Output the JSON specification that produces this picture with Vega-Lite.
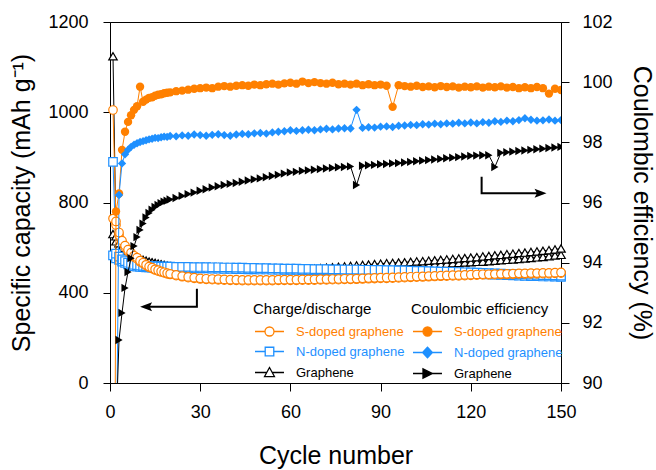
{
  "$schema": "https://vega.github.io/schema/vega-lite/v6.json",
  "width": 451,
  "height": 361,
  "autosize": "none",
  "padding": {"left": 110, "top": 22, "right": 95, "bottom": 87},
  "background": "white",
  "config": {
    "font": "Liberation Sans",
    "view": {"stroke": "black", "strokeWidth": 1},
    "axis": {"grid": false, "domainColor": "black", "tickColor": "black", "labelColor": "black", "titleColor": "black", "labelFontSize": 18, "titleFontSize": 25, "titleFontWeight": "normal", "labelFont": "Liberation Sans", "titleFont": "Liberation Sans", "tickSize": 8, "domainWidth": 1, "tickWidth": 1},
    "legend": {"titleFont": "Liberation Sans", "labelFont": "Liberation Sans", "titleFontSize": 15, "titleFontWeight": "normal", "titleColor": "black", "labelFontSize": 13, "padding": 0, "symbolSize": 81, "symbolStrokeWidth": 1.3, "labelOffset": 30, "rowPadding": 5, "titlePadding": 8, "direction": "vertical"}
  },
  "datasets": {
    "d": [
      {"c":1,"Sd":1005,"Sc":729,"Nd":890,"Nc":566,"Gd":1124,"Gc":660,"Se":72.5,"Ne":64.4,"Ge":58.7},
      {"c":2,"Sd":716,"Sc":700,"Nd":573,"Nc":552,"Gd":650,"Gc":628,"Se":95.7,"Ne":86,"Ge":88.5},
      {"c":3,"Sd":667,"Sc":655,"Nd":560,"Nc":546,"Gd":620,"Gc":605,"Se":96.3,"Ne":96.25,"Ge":91.43},
      {"c":4,"Sd":631,"Sc":622,"Nd":548,"Nc":538,"Gd":600,"Gc":590,"Se":97.75,"Ne":97.3,"Ge":92.33},
      {"c":5,"Sd":609,"Sc":601,"Nd":540,"Nc":532,"Gd":588,"Gc":580,"Se":98.35,"Ne":97.6,"Ge":93.16},
      {"c":6,"Sd":591,"Sc":584,"Nd":533,"Nc":526,"Gd":578,"Gc":571,"Se":98.68,"Ne":97.75,"Ge":93.69},
      {"c":7,"Sd":578,"Sc":571,"Nd":528,"Nc":522,"Gd":570,"Gc":564,"Se":98.9,"Ne":97.85,"Ge":94.15},
      {"c":8,"Sd":564,"Sc":558,"Nd":524,"Nc":518,"Gd":562,"Gc":557,"Se":99.08,"Ne":97.92,"Ge":94.55},
      {"c":9,"Sd":556,"Sc":550,"Nd":522,"Nc":516,"Gd":556,"Gc":551,"Se":99.2,"Ne":97.97,"Ge":94.85},
      {"c":10,"Sd":542,"Sc":537,"Nd":520,"Nc":514,"Gd":551,"Gc":547,"Se":99.85,"Ne":98.01,"Ge":95.09},
      {"c":11,"Sd":533,"Sc":529,"Nd":519,"Nc":513,"Gd":546,"Gc":542,"Se":99.35,"Ne":98.04,"Ge":95.3},
      {"c":12,"Sd":524,"Sc":520,"Nd":518,"Nc":512,"Gd":542,"Gc":538,"Se":99.42,"Ne":98.07,"Ge":95.5},
      {"c":13,"Sd":516,"Sc":513,"Nd":518,"Nc":512,"Gd":538,"Gc":535,"Se":99.48,"Ne":98.1,"Ge":95.65},
      {"c":14,"Sd":511,"Sc":507,"Nd":517,"Nc":511,"Gd":535,"Gc":532,"Se":99.5,"Ne":98.12,"Ge":95.76},
      {"c":15,"Sd":504,"Sc":501,"Nd":517,"Nc":511,"Gd":532,"Gc":529,"Se":99.55,"Ne":98.15,"Ge":95.85},
      {"c":16,"Sd":500,"Sc":496,"Nd":517,"Nc":511,"Gd":529,"Gc":526,"Se":99.58,"Ne":98.14,"Ge":95.92},
      {"c":17,"Sd":495,"Sc":492,"Nd":516,"Nc":510,"Gd":526,"Gc":523,"Se":99.6,"Ne":98.17,"Ge":95.98},
      {"c":18,"Sd":491,"Sc":488,"Nd":516,"Nc":510,"Gd":523,"Gc":520,"Se":99.63,"Ne":98.19,"Ge":96.03},
      {"c":19,"Sd":487,"Sc":484,"Nd":516,"Nc":510,"Gd":520,"Gc":517,"Se":99.65,"Ne":98.18,"Ge":96.06},
      {"c":20,"Sd":484,"Sc":481,"Nd":516,"Nc":510,"Gd":518,"Gc":515,"Se":99.66,"Ne":98.21,"Ge":96.1},
      {"c":22,"Sd":479,"Sc":476,"Nd":515,"Nc":509,"Gd":515,"Gc":512,"Se":99.7,"Ne":98.2,"Ge":96.15},
      {"c":24,"Sd":474,"Sc":471,"Nd":515,"Nc":509,"Gd":514,"Gc":512,"Se":99.72,"Ne":98.23,"Ge":96.22},
      {"c":26,"Sd":470,"Sc":467,"Nd":515,"Nc":509,"Gd":514,"Gc":512,"Se":99.75,"Ne":98.22,"Ge":96.28},
      {"c":28,"Sd":467,"Sc":464,"Nd":514,"Nc":508,"Gd":513,"Gc":511,"Se":99.78,"Ne":98.26,"Ge":96.33},
      {"c":30,"Sd":464,"Sc":461,"Nd":514,"Nc":508,"Gd":513,"Gc":511,"Se":99.8,"Ne":98.24,"Ge":96.39},
      {"c":32,"Sd":462,"Sc":459,"Nd":514,"Nc":508,"Gd":513,"Gc":511,"Se":99.82,"Ne":98.22,"Ge":96.44},
      {"c":34,"Sd":461,"Sc":458,"Nd":513,"Nc":507,"Gd":512,"Gc":510,"Se":99.8,"Ne":98.25,"Ge":96.5},
      {"c":36,"Sd":460,"Sc":457,"Nd":513,"Nc":507,"Gd":512,"Gc":510,"Se":99.85,"Ne":98.27,"Ge":96.54},
      {"c":38,"Sd":459,"Sc":456,"Nd":512,"Nc":506,"Gd":511,"Gc":509,"Se":99.87,"Ne":98.24,"Ge":96.58},
      {"c":40,"Sd":458,"Sc":455,"Nd":512,"Nc":506,"Gd":511,"Gc":509,"Se":99.85,"Ne":98.22,"Ge":96.62},
      {"c":42,"Sd":458,"Sc":455,"Nd":511,"Nc":505,"Gd":510,"Gc":508,"Se":99.88,"Ne":98.26,"Ge":96.65},
      {"c":44,"Sd":457,"Sc":454,"Nd":511,"Nc":505,"Gd":510,"Gc":508,"Se":99.9,"Ne":98.28,"Ge":96.69},
      {"c":46,"Sd":457,"Sc":454,"Nd":510,"Nc":504,"Gd":509,"Gc":507,"Se":99.88,"Ne":98.27,"Ge":96.73},
      {"c":48,"Sd":457,"Sc":454,"Nd":510,"Nc":504,"Gd":509,"Gc":507,"Se":99.92,"Ne":98.3,"Ge":96.77},
      {"c":50,"Sd":457,"Sc":454,"Nd":509,"Nc":503,"Gd":508,"Gc":506,"Se":99.9,"Ne":98.31,"Ge":96.8},
      {"c":52,"Sd":457,"Sc":454,"Nd":509,"Nc":503,"Gd":508,"Gc":506,"Se":99.93,"Ne":98.29,"Ge":96.84},
      {"c":54,"Sd":457,"Sc":454,"Nd":508,"Nc":502,"Gd":507,"Gc":505,"Se":99.95,"Ne":98.33,"Ge":96.88},
      {"c":56,"Sd":458,"Sc":455,"Nd":508,"Nc":502,"Gd":507,"Gc":505,"Se":99.92,"Ne":98.35,"Ge":96.92},
      {"c":58,"Sd":458,"Sc":455,"Nd":507,"Nc":501,"Gd":506,"Gc":504,"Se":99.96,"Ne":98.37,"Ge":96.96},
      {"c":60,"Sd":458,"Sc":455,"Nd":507,"Nc":501,"Gd":506,"Gc":504,"Se":99.98,"Ne":98.4,"Ge":97.0},
      {"c":62,"Sd":458,"Sc":455,"Nd":507,"Nc":501,"Gd":506,"Gc":504,"Se":99.95,"Ne":98.38,"Ge":97.02},
      {"c":64,"Sd":459,"Sc":456,"Nd":506,"Nc":500,"Gd":505,"Gc":503,"Se":100.02,"Ne":98.4,"Ge":97.05},
      {"c":66,"Sd":459,"Sc":456,"Nd":506,"Nc":500,"Gd":506,"Gc":503,"Se":99.97,"Ne":98.42,"Ge":97.07},
      {"c":68,"Sd":459,"Sc":456,"Nd":505,"Nc":499,"Gd":507,"Gc":504,"Se":100.0,"Ne":98.4,"Ge":97.09},
      {"c":70,"Sd":460,"Sc":457,"Nd":505,"Nc":499,"Gd":509,"Gc":505,"Se":99.97,"Ne":98.43,"Ge":97.11},
      {"c":72,"Sd":460,"Sc":457,"Nd":505,"Nc":499,"Gd":511,"Gc":506,"Se":99.95,"Ne":98.45,"Ge":97.13},
      {"c":74,"Sd":461,"Sc":458,"Nd":504,"Nc":498,"Gd":513,"Gc":507,"Se":99.98,"Ne":98.43,"Ge":97.15},
      {"c":76,"Sd":461,"Sc":458,"Nd":504,"Nc":498,"Gd":515,"Gc":508,"Se":99.93,"Ne":98.46,"Ge":97.17},
      {"c":78,"Sd":462,"Sc":459,"Nd":503,"Nc":497,"Gd":517,"Gc":509,"Se":99.95,"Ne":98.47,"Ge":97.18},
      {"c":80,"Sd":462,"Sc":459,"Nd":503,"Nc":497,"Gd":519,"Gc":510,"Se":99.92,"Ne":98.46,"Ge":97.2},
      {"c":82,"Sd":463,"Sc":460,"Nd":503,"Nc":497,"Gd":521,"Gc":511,"Se":99.95,"Ne":99.08,"Ge":96.58},
      {"c":84,"Sd":464,"Sc":461,"Nd":502,"Nc":496,"Gd":523,"Gc":512,"Se":99.9,"Ne":98.48,"Ge":97.22},
      {"c":86,"Sd":465,"Sc":462,"Nd":502,"Nc":496,"Gd":525,"Gc":514,"Se":99.93,"Ne":98.5,"Ge":97.24},
      {"c":88,"Sd":466,"Sc":463,"Nd":501,"Nc":495,"Gd":527,"Gc":515,"Se":99.9,"Ne":98.49,"Ge":97.25},
      {"c":90,"Sd":467,"Sc":464,"Nd":501,"Nc":495,"Gd":529,"Gc":516,"Se":99.92,"Ne":98.52,"Ge":97.27},
      {"c":92,"Sd":467,"Sc":464,"Nd":500,"Nc":494,"Gd":531,"Gc":517,"Se":99.88,"Ne":98.53,"Ge":97.28},
      {"c":94,"Sd":468,"Sc":465,"Nd":500,"Nc":494,"Gd":532,"Gc":518,"Se":99.18,"Ne":98.51,"Ge":97.3},
      {"c":96,"Sd":469,"Sc":466,"Nd":499,"Nc":493,"Gd":534,"Gc":519,"Se":99.9,"Ne":98.55,"Ge":97.31},
      {"c":98,"Sd":470,"Sc":467,"Nd":499,"Nc":493,"Gd":535,"Gc":521,"Se":99.87,"Ne":98.56,"Ge":97.33},
      {"c":100,"Sd":471,"Sc":468,"Nd":498,"Nc":492,"Gd":537,"Gc":523,"Se":99.85,"Ne":98.58,"Ge":97.35},
      {"c":102,"Sd":472,"Sc":469,"Nd":497,"Nc":491,"Gd":539,"Gc":524,"Se":99.88,"Ne":98.57,"Ge":97.37},
      {"c":104,"Sd":473,"Sc":470,"Nd":497,"Nc":491,"Gd":540,"Gc":525,"Se":99.84,"Ne":98.6,"Ge":97.39},
      {"c":106,"Sd":474,"Sc":471,"Nd":496,"Nc":490,"Gd":542,"Gc":526,"Se":99.86,"Ne":98.59,"Ge":97.41},
      {"c":108,"Sd":475,"Sc":472,"Nd":495,"Nc":489,"Gd":544,"Gc":527,"Se":99.83,"Ne":98.62,"Ge":97.43},
      {"c":110,"Sd":476,"Sc":473,"Nd":494,"Nc":488,"Gd":546,"Gc":528,"Se":99.87,"Ne":98.6,"Ge":97.45},
      {"c":112,"Sd":477,"Sc":474,"Nd":493,"Nc":487,"Gd":548,"Gc":529,"Se":99.84,"Ne":98.63,"Ge":97.47},
      {"c":114,"Sd":478,"Sc":475,"Nd":493,"Nc":487,"Gd":550,"Gc":531,"Se":99.86,"Ne":98.62,"Ge":97.49},
      {"c":116,"Sd":478,"Sc":475,"Nd":492,"Nc":486,"Gd":552,"Gc":532,"Se":99.82,"Ne":98.65,"Ge":97.51},
      {"c":118,"Sd":479,"Sc":476,"Nd":491,"Nc":485,"Gd":554,"Gc":534,"Se":99.85,"Ne":98.63,"Ge":97.53},
      {"c":120,"Sd":480,"Sc":477,"Nd":490,"Nc":484,"Gd":556,"Gc":535,"Se":99.83,"Ne":98.66,"Ge":97.55},
      {"c":122,"Sd":481,"Sc":478,"Nd":489,"Nc":483,"Gd":558,"Gc":537,"Se":99.86,"Ne":98.63,"Ge":97.56},
      {"c":124,"Sd":482,"Sc":479,"Nd":488,"Nc":482,"Gd":561,"Gc":538,"Se":99.82,"Ne":98.67,"Ge":97.57},
      {"c":126,"Sd":482,"Sc":479,"Nd":487,"Nc":481,"Gd":563,"Gc":540,"Se":99.85,"Ne":98.65,"Ge":97.57},
      {"c":128,"Sd":483,"Sc":480,"Nd":486,"Nc":480,"Gd":566,"Gc":542,"Se":99.83,"Ne":98.7,"Ge":97.18},
      {"c":130,"Sd":484,"Sc":481,"Nd":485,"Nc":479,"Gd":568,"Gc":544,"Se":99.86,"Ne":98.68,"Ge":97.65},
      {"c":132,"Sd":484,"Sc":481,"Nd":484,"Nc":478,"Gd":571,"Gc":546,"Se":99.82,"Ne":98.72,"Ge":97.67},
      {"c":134,"Sd":485,"Sc":482,"Nd":483,"Nc":477,"Gd":573,"Gc":548,"Se":99.84,"Ne":98.7,"Ge":97.69},
      {"c":136,"Sd":486,"Sc":483,"Nd":482,"Nc":476,"Gd":576,"Gc":550,"Se":99.8,"Ne":98.74,"Ge":97.71},
      {"c":138,"Sd":486,"Sc":483,"Nd":481,"Nc":475,"Gd":578,"Gc":552,"Se":99.83,"Ne":98.8,"Ge":97.73},
      {"c":140,"Sd":487,"Sc":484,"Nd":480,"Nc":474,"Gd":581,"Gc":554,"Se":99.8,"Ne":98.75,"Ge":97.75},
      {"c":142,"Sd":487,"Sc":484,"Nd":479,"Nc":473,"Gd":583,"Gc":557,"Se":99.84,"Ne":98.72,"Ge":97.77},
      {"c":144,"Sd":488,"Sc":485,"Nd":478,"Nc":472,"Gd":586,"Gc":559,"Se":99.8,"Ne":98.73,"Ge":97.79},
      {"c":146,"Sd":488,"Sc":485,"Nd":478,"Nc":472,"Gd":589,"Gc":562,"Se":99.62,"Ne":98.76,"Ge":97.81},
      {"c":148,"Sd":489,"Sc":486,"Nd":477,"Nc":471,"Gd":592,"Gc":565,"Se":99.78,"Ne":98.72,"Ge":97.83},
      {"c":150,"Sd":490,"Sc":487,"Nd":476,"Nc":470,"Gd":596,"Gc":568,"Se":99.74,"Ne":98.74,"Ge":97.85}
    ],
    "arrL": [
      {"c": 28.9, "cap": 418, "o": 1},
      {"c": 28.9, "cap": 338, "o": 2},
      {"c": 12, "cap": 338, "o": 3}
    ],
    "arrR": [
      {"c": 123.6, "ce": 96.86, "o": 1},
      {"c": 123.6, "ce": 96.31, "o": 2},
      {"c": 143.2, "ce": 96.31, "o": 3}
    ]
  },
  "encoding": {
    "x": {"field": "c", "type": "quantitative", "scale": {"domain": [0, 150], "nice": false, "zero": false}, "axis": {"values": [0, 30, 60, 90, 120, 150], "title": "Cycle number", "labelPadding": 12, "titlePadding": 22, "labelFlush": false}}
  },
  "layer": [
    {
      "encoding": {
        "y": {"field": "cap", "type": "quantitative", "scale": {"domain": [0, 400, 800, 1000, 1200], "range": [361, 270.75, 180.5, 90.25, 0], "nice": false, "zero": false}, "axis": {"orient": "left", "values": [0, 400, 800, 1000, 1200], "format": "d", "title": "Specific capacity (mAh g⁻¹)", "tickSize": 7, "labelPadding": 15, "titlePadding": 13}}
      },
      "layer": [
        {
          "data": {"name": "d"},
          "transform": [{"fold": ["Gd", "Gc", "Nd", "Nc", "Sd", "Sc"], "as": ["k", "cap"]}],
          "mark": {"type": "line", "strokeWidth": 1},
          "encoding": {
            "color": {"field": "k", "type": "nominal", "scale": {"domain": ["Gc", "Gd", "Nc", "Nd", "Sc", "Sd"], "range": ["#000000", "#000000", "#1e90ff", "#1e90ff", "#ff8000", "#ff8000"]}, "legend": null}
          }
        },
        {
          "data": {"name": "d"},
          "transform": [{"fold": ["Gd", "Gc", "Nd", "Nc", "Sd", "Sc"], "as": ["k", "cap"]}],
          "mark": {"type": "point", "filled": true, "fill": "white", "size": 72, "strokeWidth": 1.2, "opacity": 1},
          "encoding": {
            "order": {"field": "k", "type": "nominal"},
            "stroke": {"field": "k", "type": "nominal", "scale": {"domain": ["Sd", "Sc", "Nd", "Nc", "Gd", "Gc"], "range": ["#ff8000", "#ff8000", "#1e90ff", "#1e90ff", "#000000", "#000000"]},
              "legend": {
                "title": "Charge/discharge",
                "values": ["Sd", "Nd", "Gd"],
                "labelExpr": "datum.value == 'Sd' ? 'S-doped graphene' : datum.value == 'Nd' ? 'N-doped graphene' : 'Graphene'",
                "orient": "none", "legendX": 143, "legendY": 280,
                "encoding": {
                  "symbols": {
                    "shape": {"condition": [{"test": "datum.value == 'Sd'", "value": "M-1,0H1.22M3.22,0H5.44M1.22,0A1,1,0,1,1,3.22,0A1,1,0,1,1,1.22,0Z"}, {"test": "datum.value == 'Nd'", "value": "M-1,0H1.27M3.17,0H5.44M1.27,-0.95H3.17V0.95H1.27Z"}], "value": "M-1,0H1.62M2.82,0H5.44M2.22,-1.1L3.32,0.9L1.12,0.9Z"},
                    "stroke": {"condition": [{"test": "datum.value == 'Sd'", "value": "#ff8000"}, {"test": "datum.value == 'Nd'", "value": "#1e90ff"}], "value": "black"},
                    "fill": {"value": "white"},
                    "strokeWidth": {"value": 1.3},
                    "opacity": {"value": 1}
                  },
                  "labels": {
                    "fill": {"condition": [{"test": "datum.value == 'Sd'", "value": "#ff8000"}, {"test": "datum.value == 'Nd'", "value": "#1e90ff"}], "value": "black"}
                  }
                }
              }
            },
            "shape": {"field": "k", "type": "nominal", "scale": {"domain": ["Sc", "Sd", "Nc", "Nd", "Gc", "Gd"], "range": ["circle", "circle", "square", "square", "triangle-up", "triangle-up"]}, "legend": null}
          }
        },
        {
          "data": {"name": "arrL"},
          "mark": {"type": "line", "color": "black", "strokeWidth": 2},
          "encoding": {"order": {"field": "o", "type": "quantitative"}}
        },
        {
          "data": {"name": "arrL"},
          "transform": [{"filter": "datum.o == 3"}],
          "mark": {"type": "point", "filled": true, "color": "black", "opacity": 1, "size": 144, "shape": "M-1,0L1,-0.75L0.6,0L1,0.75Z"},
          "encoding": {}
        }
      ]
    },
    {
      "encoding": {
        "y": {"field": "ce", "type": "quantitative", "scale": {"domain": [90, 102], "nice": false, "zero": false}, "axis": {"orient": "right", "values": [90, 92, 94, 96, 98, 100, 102], "title": "Coulombic efficiency (%)", "labelPadding": 13, "titlePadding": 16}}
      },
      "layer": [
        {
          "data": {"name": "d"},
          "transform": [{"fold": ["Se", "Ne", "Ge"], "as": ["k", "ce"]}],
          "mark": {"type": "line", "strokeWidth": 1, "clip": true},
          "encoding": {
            "stroke": {"field": "k", "type": "nominal", "scale": {"domain": ["Ne", "Se", "Ge"], "range": ["#1e90ff", "#ff8000", "#000000"]}, "legend": null}
          }
        },
        {
          "data": {"name": "d"},
          "transform": [{"fold": ["Se", "Ne", "Ge"], "as": ["k", "ce"]}],
          "mark": {"type": "point", "filled": true, "size": 70, "opacity": 1, "clip": true},
          "encoding": {
            "color": {"field": "k", "type": "nominal", "scale": {"domain": ["Se", "Ne", "Ge"], "range": ["#ff8000", "#1e90ff", "#000000"]},
              "legend": {
                "title": "Coulombic efficiency",
                "values": ["Se", "Ne", "Ge"],
                "labelExpr": "datum.value == 'Se' ? 'S-doped graphene' : datum.value == 'Ne' ? 'N-doped graphene' : 'Graphene'",
                "orient": "none", "legendX": 301, "legendY": 280,
                "encoding": {
                  "symbols": {
                    "shape": {"condition": [{"test": "datum.value == 'Se'", "value": "M-1,0H1.22M3.22,0H5.44M1.22,0A1,1,0,1,1,3.22,0A1,1,0,1,1,1.22,0Z"}, {"test": "datum.value == 'Ne'", "value": "M-1,0H1.12M3.32,0H5.44M2.22,-1.2L3.32,0L2.22,1.2L1.12,0Z"}], "value": "M-1,0H1.22M3.32,0H5.44M1.22,-1.05L3.32,0L1.22,1.05Z"},
                    "stroke": {"condition": [{"test": "datum.value == 'Se'", "value": "#ff8000"}, {"test": "datum.value == 'Ne'", "value": "#1e90ff"}], "value": "black"},
                    "fill": {"condition": [{"test": "datum.value == 'Se'", "value": "#ff8000"}, {"test": "datum.value == 'Ne'", "value": "#1e90ff"}], "value": "black"},
                    "strokeWidth": {"value": 1.3},
                    "opacity": {"value": 1}
                  },
                  "labels": {
                    "fill": {"condition": [{"test": "datum.value == 'Se'", "value": "#ff8000"}, {"test": "datum.value == 'Ne'", "value": "#1e90ff"}], "value": "black"}
                  }
                }
              }
            },
            "shape": {"field": "k", "type": "nominal", "scale": {"domain": ["Ge", "Ne", "Se"], "range": ["triangle-right", "diamond", "circle"]}, "legend": null}
          }
        },
        {
          "data": {"name": "arrR"},
          "mark": {"type": "line", "color": "black", "strokeWidth": 2},
          "encoding": {"order": {"field": "o", "type": "quantitative"}}
        },
        {
          "data": {"name": "arrR"},
          "transform": [{"filter": "datum.o == 3"}],
          "mark": {"type": "point", "filled": true, "color": "black", "opacity": 1, "size": 144, "shape": "M1,0L-1,-0.75L-0.6,0L-1,0.75Z"},
          "encoding": {}
        }
      ]
    }
  ],
  "resolve": {"scale": {"y": "independent", "shape": "independent", "color": "independent", "stroke": "independent"}}
}
